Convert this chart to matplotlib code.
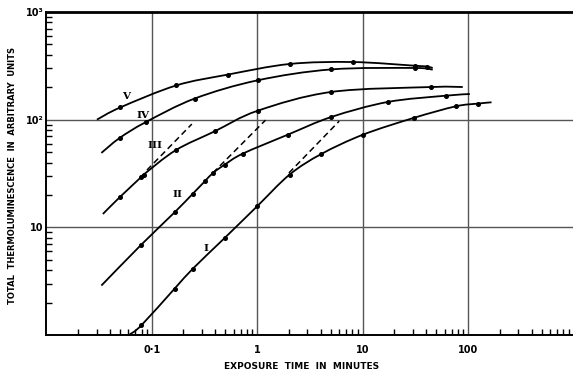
import matplotlib
matplotlib.use("Agg")
import matplotlib.pyplot as plt
import numpy as np
from matplotlib.path import Path
from matplotlib.patches import PathPatch
from matplotlib.ticker import LogLocator, FixedLocator, FixedFormatter, NullFormatter

# exposure time (minutes) / total thermoluminescence, one curve per sample
# first and last entries are where the drawn curve starts and stops
V_t = [0.0302, 0.0504, 0.171, 0.525, 2.03, 8.05, 31.2, 40.6, 46.2]
V_tl = [100, 130, 208, 262, 329, 343, 317, 311, 302]

IV_t = [0.0333, 0.0496, 0.088, 0.255, 1.01, 5.06, 31.2, 46.2]
IV_tl = [49.1, 67.6, 95, 157, 232, 293, 302, 291]

III_t = [0.0344, 0.0496, 0.0797, 0.0838, 0.1686, 0.395, 1.01, 5.06, 45.0, 89.1]
III_tl = [13.3, 19.0, 29.4, 30.9, 52, 77.9, 121, 181, 201, 201]

II_t = [0.0333, 0.0797, 0.165, 0.246, 0.318, 0.381, 0.492, 0.728, 1.95, 5.06, 17.3, 61.4, 104]
II_tl = [2.88, 6.91, 13.8, 20.6, 26.7, 32.0, 38.2, 48.3, 72.5, 106, 146, 167, 173]

I_t = [0.0617, 0.0797, 0.165, 0.246, 0.492, 1.0, 2.03, 4.06, 10.1, 30.7, 76.4, 124, 167]
I_tl = [1.01, 1.23, 2.70, 4.14, 7.97, 15.7, 30.9, 48.0, 72.6, 104, 133, 141, 145]

# straight-line extrapolations of the initial slopes
III_dash_t, III_dash_tl = [0.09, 0.24], [34, 91]
II_dash_t, II_dash_tl = [0.38, 1.2], [32, 99]
I_dash_t, I_dash_tl = [2.0, 6.0], [32, 97]

curves = [("V", V_t, V_tl), ("IV", IV_t, IV_tl), ("III", III_t, III_tl),
          ("II", II_t, II_tl), ("I", I_t, I_tl)]
dashes = [(III_dash_t, III_dash_tl), (II_dash_t, II_dash_tl), (I_dash_t, I_dash_tl)]
label_pos = {"V": (0.0574, 165), "IV": (0.0825, 110), "III": (0.107, 58),
             "II": (0.177, 20), "I": (0.33, 6.3)}


def smooth_path(t, tl):
    # Catmull-Rom through the points (in log space), as cubic Bezier segments
    p = np.column_stack([np.log10(t), np.log10(tl)])
    n = len(p)
    verts = [p[0]]
    codes = [Path.MOVETO]
    for i in range(n - 1):
        p0 = p[i - 1] if i > 0 else p[i]
        p3 = p[i + 2] if i + 2 < n else p[i + 1]
        c1 = p[i] + (p[i + 1] - p0) / 6.0
        c2 = p[i + 1] - (p3 - p[i]) / 6.0
        verts += [c1, c2, p[i + 1]]
        codes += [Path.CURVE4] * 3
    return Path(10 ** np.array(verts), codes)


fig = plt.figure(figsize=(5.73, 3.75), dpi=100)
ax = fig.add_axes([46.3 / 573, 40 / 375, 527.2 / 573, 323 / 375])
ax.set_xscale("log")
ax.set_yscale("log")
ax.set_xlim(0.01, 1000)
ax.set_ylim(1, 1000)

for xv in [0.1, 1, 10, 100]:
    ax.axvline(xv, color="#555555", lw=1.0, zorder=1)
for yv in [10, 100]:
    ax.axhline(yv, color="#555555", lw=1.0, zorder=1)

for name, t, tl in curves:
    ax.add_patch(PathPatch(smooth_path(t, tl), facecolor="none",
                           edgecolor="black", lw=1.3, zorder=3))
    ax.plot(t[1:-1], tl[1:-1], "o", color="black", ms=2.6, zorder=4)
    lx, ly = label_pos[name]
    ax.text(lx, ly, name, family="DejaVu Serif", fontweight="bold",
            fontsize=7.5, ha="center", va="center", zorder=5)

for t, tl in dashes:
    ax.plot(t, tl, color="black", lw=1.1, ls=(0, (4, 2.5)), zorder=3)

for side in ["left", "bottom"]:
    ax.spines[side].set_linewidth(1.4)
ax.spines["top"].set_linewidth(2.0)
ax.spines["right"].set_visible(False)

ax.xaxis.set_major_locator(FixedLocator([0.1, 1, 10, 100]))
ax.xaxis.set_major_formatter(FixedFormatter(["0·1", "1", "10", "100"]))
ax.xaxis.set_minor_locator(LogLocator(base=10, subs=np.arange(2, 10), numticks=20))
ax.xaxis.set_minor_formatter(NullFormatter())
ax.yaxis.set_major_locator(FixedLocator([10, 100, 1000]))
ax.yaxis.set_major_formatter(FixedFormatter(["10", "10²", "10³"]))
ax.yaxis.set_minor_locator(LogLocator(base=10, subs=np.arange(2, 10), numticks=20))
ax.yaxis.set_minor_formatter(NullFormatter())

ax.tick_params(which="both", direction="in", color="black", width=1.0,
               top=False, right=False)
ax.tick_params(which="major", length=0)
ax.tick_params(which="minor", length=4)
ax.tick_params(axis="x", which="major", pad=7, labelsize=7)
ax.tick_params(axis="y", which="major", pad=2, labelsize=7)
for lab in ax.get_xticklabels() + ax.get_yticklabels():
    lab.set_fontweight("bold")

ax.set_xlabel("EXPOSURE  TIME  IN  MINUTES", fontsize=6.5, fontweight="bold")
ax.xaxis.set_label_coords((302 - 46.3) / 527.2, -0.085)
ax.set_ylabel("TOTAL  THERMOLUMINESCENCE  IN  ARBITRARY  UNITS", fontsize=6,
              fontweight="bold")
ax.yaxis.set_label_coords((17 - 46.3) / 527.2, (335 - 175) / 323)

fig.savefig("out.png", dpi=100)
